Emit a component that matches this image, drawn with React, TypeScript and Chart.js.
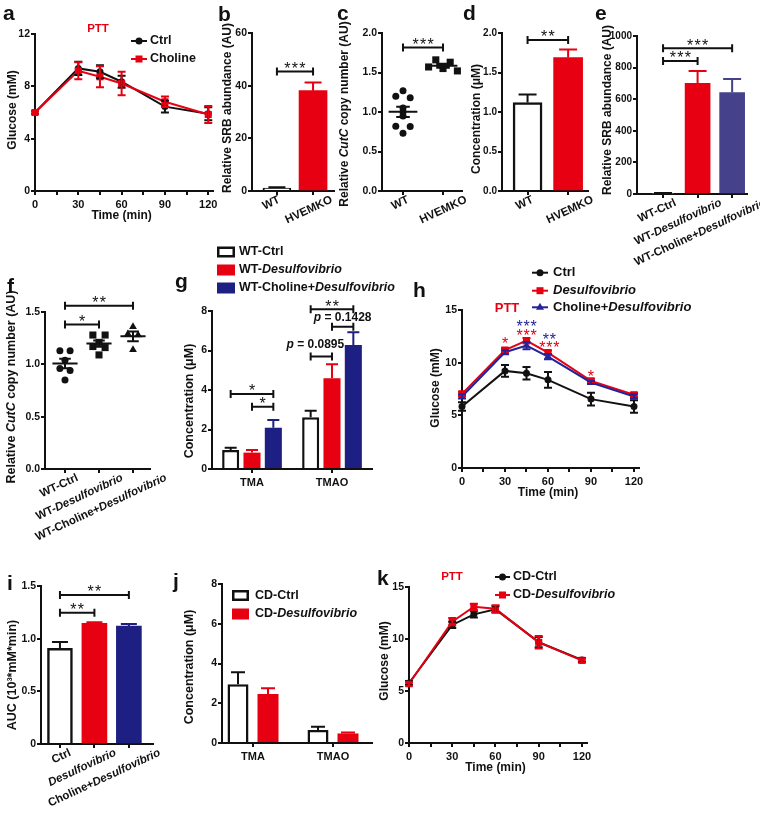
import React, { useEffect, useRef } from 'react';
import { Chart, registerables } from 'chart.js';

Chart.register(...registerables);

type Seg = [string, boolean];

const FONT = '"Liberation Sans", Arial, Helvetica, sans-serif';
const RED = '#e60012';
const BLUE = '#1d1f82';
const BLUE_E = '#45418a';
const BLUE_H = '#23239a';
const BLACK = '#111111';
const WHITE = '#ffffff';

// ---------------- data ----------------
const timePoints = [0, 30, 45, 60, 90, 120];
const timeTicks = [0, 15, 30, 45, 60, 75, 90, 105, 120];

// a
const aCtrl = [6.0, 9.37, 9.11, 8.35, 6.45, 5.9];
const aCtrlErr = [0.12, 0.5, 0.5, 0.45, 0.45, 0.5];
const aCholine = [6.0, 9.19, 8.73, 8.22, 6.82, 5.85];
const aCholineErr = [0.12, 0.65, 0.8, 0.9, 0.4, 0.65];

// b
const koCats: Seg[][] = [[['WT', false]], [['HVEMKO', false]]];
const bSRB = [1.1, 38.1];
const bSRBErr = [0.3, 3.1];

// c
const cWT = [1.27, 1.2, 1.18, 1.05, 1.0, 0.95, 0.82, 0.815, 0.73];
const cKO = [1.66, 1.63, 1.57, 1.55, 1.52];

// d
const dConc = [1.12, 1.69];
const dConcErr = [0.1, 0.1];

// e
const wtCats: Seg[][] = [
  [['WT-Ctrl', false]],
  [['WT-', false], ['Desulfovibrio', true]],
  [['WT-Choline+', false], ['Desulfovibrio', true]],
];
const eSRB = [5, 701, 642];
const eSRBErr = [2, 78, 86];

// f
const fCtrl = [1.13, 1.13, 1.04, 0.96, 0.94, 0.85];
const fDes = [1.28, 1.28, 1.21, 1.17, 1.16, 1.09];
const fChol = [1.36, 1.29, 1.28, 1.14];

// g
const metCats = ['TMA', 'TMAO'];
const gCtrl = [0.96, 2.62];
const gCtrlErr = [0.12, 0.33];
const gDes = [0.83, 4.59];
const gDesErr = [0.13, 0.71];
const gChol = [2.09, 6.28];
const gCholErr = [0.39, 0.64];

// h
const hCtrl = [5.84, 9.22, 9.0, 8.37, 6.54, 5.84];
const hCtrlErr = [0.4, 0.55, 0.6, 0.75, 0.6, 0.6];
const hDes = [7.04, 11.2, 12.09, 10.96, 8.27, 6.95];
const hDesErr = [0.2, 0.2, 0.25, 0.2, 0.2, 0.2];
const hChol = [6.79, 10.99, 11.62, 10.58, 8.12, 6.79];
const hCholErr = [0.2, 0.2, 0.35, 0.25, 0.15, 0.2];

// i
const aucCats: Seg[][] = [
  [['Ctrl', false]],
  [['Desulfovibrio', true]],
  [['Choline+', false], ['Desulfovibrio', true]],
];
const iAUC = [0.908, 1.146, 1.12];
const iAUCErr = [0.06, 0.01, 0.02];

// j
const jCtrl = [2.96, 0.65];
const jCtrlErr = [0.6, 0.17];
const jDes = [2.46, 0.48];
const jDesErr = [0.3, 0.05];

// k
const kCtrl = [5.77, 11.35, 12.37, 12.85, 9.7, 7.98];
const kCtrlErr = [0.2, 0.3, 0.3, 0.3, 0.5, 0.2];
const kDes = [5.7, 11.67, 13.1, 12.9, 9.68, 7.95];
const kDesErr = [0.2, 0.35, 0.3, 0.35, 0.6, 0.2];

// ---------------- types ----------------
interface Box { x: number; y: number; w: number; h: number }
interface Area { l: number; r: number; t: number; b: number }
interface ErrSpec { ds: number; err: number[]; mode: 'up' | 'both'; color: string; cap: number }
type End = number | [number, number];
interface Bracket { a: End; b: End; y: number; stars?: number; label?: Seg[]; dx?: number; dy?: number }
interface StarSpec { x: number; y: number; n: number; color: string }
interface LegendItem { kind: 'line' | 'box'; x: number; y: number; w: number; color: string; fill?: string; point?: string; segs: Seg[]; textX: number; size: number }
interface TextItem { x: number; y: number; segs: Seg[]; size: number; color?: string; align?: 'left' | 'center' | 'right'; baseline?: CanvasTextBaseline }
interface Panel {
  type: 'line' | 'bar' | 'scatter';
  box: Box; area: Area;
  tickSize?: number;
  xMin: number; xMax: number; xTicks: number[]; xLabel?: (v: number) => string;
  yMin: number; yMax: number; yStep: number; yLabel: (v: number) => string;
  datasets: any[];
  texts: TextItem[];
  yTitle: { x: number; y: number; segs: Seg[]; size: number };
  xTitle?: string;
  legend?: LegendItem[];
  errors?: ErrSpec[];
  dots?: { values: number[]; half: number; cap: number }[];
  brackets?: Bracket[];
  stars?: StarSpec[];
  rot?: { labels: Seg[][]; angle: number; dy: number; a: number; b: number; size: number };
}

// ---------------- helpers ----------------
const fnt = (size: number, italic = false, weight = 'bold') => `${italic ? 'italic ' : ''}${weight} ${size}px ${FONT}`;

function richWidth(ctx: CanvasRenderingContext2D, segs: Seg[], size: number, weight = 'bold') {
  let w = 0;
  for (const [t, it] of segs) { ctx.font = fnt(size, it, weight); w += ctx.measureText(t).width; }
  return w;
}

function drawRich(ctx: CanvasRenderingContext2D, segs: Seg[], x: number, y: number, size: number,
  o: { align?: 'left' | 'center' | 'right'; baseline?: CanvasTextBaseline; color?: string; rot?: number; weight?: string } = {}) {
  ctx.save();
  ctx.translate(x, y);
  if (o.rot) ctx.rotate(o.rot);
  ctx.fillStyle = o.color || BLACK;
  ctx.textBaseline = o.baseline || 'middle';
  ctx.textAlign = 'left';
  const w = richWidth(ctx, segs, size, o.weight);
  let cx = o.align === 'right' ? -w : o.align === 'center' ? -w / 2 : 0;
  for (const [t, it] of segs) {
    ctx.font = fnt(size, it, o.weight);
    ctx.fillText(t, cx, 0);
    cx += ctx.measureText(t).width;
  }
  ctx.restore();
  return w;
}

function drawStars(ctx: CanvasRenderingContext2D, cx: number, cy: number, n: number, color: string, size = 16, spacing = 7.5) {
  ctx.save();
  ctx.fillStyle = color;
  ctx.font = `normal ${size}px ${FONT}`;
  ctx.textAlign = 'center';
  ctx.textBaseline = 'alphabetic';
  const start = cx - ((n - 1) * spacing) / 2;
  for (let i = 0; i < n; i++) ctx.fillText('*', start + i * spacing, cy + size * 0.58);
  ctx.restore();
}

function drawMarker(ctx: CanvasRenderingContext2D, style: string, x: number, y: number, color: string) {
  ctx.save();
  ctx.fillStyle = color;
  ctx.beginPath();
  if (style === 'rect') ctx.rect(x - 3.5, y - 3.5, 7, 7);
  else if (style === 'triangle') { ctx.moveTo(x, y - 4.5); ctx.lineTo(x + 4, y + 2.5); ctx.lineTo(x - 4, y + 2.5); ctx.closePath(); }
  else ctx.arc(x, y, 3.5, 0, Math.PI * 2);
  ctx.fill();
  ctx.restore();
}

const pts = (xs: number[], ys: number[]) => xs.map((x, i) => ({ x, y: ys[i] }));

function swarm(values: number[], cat: number, spacing: number, tol: number) {
  const sorted = values.map((v) => v).sort((a, b) => b - a);
  const rows: number[][] = [];
  sorted.forEach((v) => {
    const last = rows[rows.length - 1];
    if (last && last[last.length - 1] - v <= tol) last.push(v); else rows.push([v]);
  });
  const out: { x: number; y: number }[] = [];
  rows.forEach((r) => r.forEach((v, k) => out.push({ x: cat + (k - (r.length - 1) / 2) * spacing, y: v })));
  return out;
}

function lineDs(vals: number[], color: string, style: string, radius: number, order: number) {
  return {
    type: 'line', data: pts(timePoints, vals), borderColor: color, backgroundColor: color,
    pointBackgroundColor: color, pointBorderColor: color, pointBorderWidth: 0,
    pointStyle: style, pointRadius: radius, borderWidth: 2, tension: 0, order, clip: false,
  };
}

function barDs(vals: number[], fill: string[], border: string[], bw: number[], thickness: number) {
  return {
    type: 'bar', data: vals.map((v, i) => ({ x: i, y: v })), backgroundColor: fill,
    borderColor: border, borderWidth: bw, barThickness: thickness,
  };
}

function groupDs(vals: number[], fill: string, border: string, bw: number, cp: number, bp: number) {
  return {
    type: 'bar', data: vals.map((v, i) => ({ x: i, y: v })), backgroundColor: fill,
    borderColor: border, borderWidth: bw, categoryPercentage: cp, barPercentage: bp,
  };
}

const letter = (t: string, x: number, y: number): TextItem => ({ x, y, segs: [[t, false]], size: 21, baseline: 'alphabetic' });
const ptt = (x: number, y: number, size: number): TextItem => ({ x, y, segs: [['PTT', false]], size, color: RED, align: 'center' });
const fix1 = (v: number) => v.toFixed(1);
const plain = (v: number) => String(v);
const timeLabel = (v: number) => (v % 30 === 0 ? String(v) : '');
const catIdx = (n: number) => Array.from({ length: n }, (_, i) => i);

// ---------------- panels ----------------
const PANELS: Panel[] = [
  // a
  {
    type: 'line', box: { x: 0, y: 0, w: 232, h: 222 }, area: { l: 35, r: 213.3, t: 34, b: 191 },
    xMin: 0, xMax: 123.5, xTicks: timeTicks, xLabel: timeLabel,
    yMin: 0, yMax: 12, yStep: 4, yLabel: plain,
    datasets: [lineDs(aCholine, RED, 'rect', 5, 0), lineDs(aCtrl, BLACK, 'circle', 3.5, 1)],
    errors: [
      { ds: 1, err: aCtrlErr, mode: 'both', color: BLACK, cap: 8 },
      { ds: 0, err: aCholineErr, mode: 'both', color: RED, cap: 8 },
    ],
    texts: [letter('a', 3, 20), ptt(98, 29, 11.5)],
    yTitle: { x: 13, y: 110, segs: [['Glucose (mM)', false]], size: 12 },
    xTitle: 'Time (min)',
    legend: [
      { kind: 'line', x: 131, y: 41, w: 16, color: BLACK, point: 'circle', segs: [['Ctrl', false]], textX: 150, size: 12.5 },
      { kind: 'line', x: 131, y: 59, w: 16, color: RED, point: 'rect', segs: [['Choline', false]], textX: 150, size: 12.5 },
    ],
  },
  // b
  {
    type: 'bar', box: { x: 182, y: 0, w: 172, h: 245 }, area: { l: 252, r: 334, t: 33, b: 191 },
    xMin: -0.69, xMax: 1.58, xTicks: catIdx(2),
    yMin: 0, yMax: 60, yStep: 20, yLabel: plain,
    datasets: [barDs(bSRB, [WHITE, RED], [BLACK, RED], [2, 0], 28)],
    errors: [{ ds: 0, err: bSRBErr, mode: 'up', color: RED, cap: 17 }],
    texts: [letter('b', 218, 21)],
    yTitle: { x: 228, y: 108, segs: [['Relative SRB abundance (AU)', false]], size: 12 },
    brackets: [{ a: 0, b: 1, y: 45.4, stars: 3 }],
    rot: { labels: koCats, angle: 25, dy: 3, a: -9, b: 0.5, size: 11.5 },
  },
  // c
  {
    type: 'scatter', box: { x: 330, y: 0, w: 155, h: 245 }, area: { l: 382, r: 462, t: 33, b: 191 },
    xMin: -0.525, xMax: 1.475, xTicks: catIdx(2),
    yMin: 0, yMax: 2, yStep: 0.5, yLabel: fix1,
    datasets: [
      { data: swarm(cWT, 0, 0.36, 0.035), pointStyle: 'circle', pointRadius: 3.5, backgroundColor: BLACK, borderColor: BLACK, borderWidth: 0 },
      { data: swarm(cKO, 1, 0.36, 0.035), pointStyle: 'rect', pointRadius: 5, backgroundColor: BLACK, borderColor: BLACK, borderWidth: 0 },
    ],
    dots: [{ values: cWT, half: 0.36, cap: 0.17 }, { values: cKO, half: 0.36, cap: 0.17 }],
    texts: [letter('c', 337, 20)],
    yTitle: { x: 345, y: 114, segs: [['Relative ', false], ['CutC', true], [' copy number (AU)', false]], size: 12 },
    brackets: [{ a: 0, b: 1, y: 1.815, stars: 3 }],
    rot: { labels: koCats, angle: 25, dy: 3, a: -7, b: 0.55, size: 11.5 },
  },
  // d
  {
    type: 'bar', box: { x: 460, y: 0, w: 150, h: 245 }, area: { l: 502, r: 588, t: 33, b: 191 }, tickSize: 10,
    xMin: -0.63, xMax: 1.49, xTicks: catIdx(2),
    yMin: 0, yMax: 2, yStep: 0.5, yLabel: fix1,
    datasets: [barDs(dConc, [WHITE, RED], [BLACK, RED], [2.5, 0], 29)],
    errors: [{ ds: 0, err: dConcErr, mode: 'up', color: BLACK, cap: 18 }],
    texts: [letter('d', 463, 20)],
    yTitle: { x: 477, y: 119, segs: [['Concentration (μM)', false]], size: 12 },
    brackets: [{ a: 0, b: 1, y: 1.91, stars: 2 }],
    rot: { labels: koCats, angle: 25, dy: 3, a: -8, b: 0.6, size: 11.5 },
  },
  // e
  {
    type: 'bar', box: { x: 583, y: 0, w: 177, h: 280 }, area: { l: 637, r: 747, t: 36, b: 194 }, tickSize: 10,
    xMin: -0.754, xMax: 2.43, xTicks: catIdx(3),
    yMin: 0, yMax: 1000, yStep: 200, yLabel: plain,
    datasets: [barDs(eSRB, [WHITE, RED, BLUE_E], [BLACK, RED, BLUE_E], [2, 0, 0], 25)],
    errors: [{ ds: 0, err: eSRBErr, mode: 'up', color: RED, cap: 18 }],
    texts: [letter('e', 595, 20)],
    yTitle: { x: 608, y: 110, segs: [['Relative SRB abundance (AU)', false]], size: 12 },
    brackets: [{ a: 0, b: 1, y: 842, stars: 3 }, { a: 0, b: 2, y: 922, stars: 3 }],
    rot: { labels: wtCats, angle: 25, dy: 3, a: 2, b: 0.2, size: 11.5 },
  },
  // f
  {
    type: 'scatter', box: { x: 0, y: 270, w: 178, h: 290 }, area: { l: 45, r: 150, t: 312, b: 469 },
    xMin: -0.588, xMax: 2.5, xTicks: catIdx(3),
    yMin: 0, yMax: 1.5, yStep: 0.5, yLabel: fix1,
    datasets: [
      { data: swarm(fCtrl, 0, 0.3, 0.025), pointStyle: 'circle', pointRadius: 3.5, backgroundColor: BLACK, borderColor: BLACK, borderWidth: 0 },
      { data: swarm(fDes, 1, 0.36, 0.025), pointStyle: 'rect', pointRadius: 5, backgroundColor: BLACK, borderColor: BLACK, borderWidth: 0 },
      { data: swarm(fChol, 2, 0.3, 0.025), pointStyle: 'triangle', pointRadius: 4.5, backgroundColor: BLACK, borderColor: BLACK, borderWidth: 0 },
    ],
    dots: [{ values: fCtrl, half: 0.37, cap: 0.17 }, { values: fDes, half: 0.37, cap: 0.17 }, { values: fChol, half: 0.37, cap: 0.17 }],
    texts: [letter('f', 7, 293)],
    yTitle: { x: 12, y: 387, segs: [['Relative ', false], ['CutC', true], [' copy number (AU)', false]], size: 12.5 },
    brackets: [{ a: 0, b: 1, y: 1.38, stars: 1 }, { a: 0, b: 2, y: 1.56, stars: 2 }],
    rot: { labels: wtCats, angle: 25, dy: 3, a: 2, b: 0.2, size: 11.5 },
  },
  // g
  {
    type: 'bar', box: { x: 170, y: 238, w: 250, h: 262 }, area: { l: 212, r: 372, t: 311, b: 469 },
    xMin: -0.5, xMax: 1.5, xTicks: catIdx(2), xLabel: (v) => metCats[v] ?? '',
    yMin: 0, yMax: 8, yStep: 2, yLabel: plain,
    datasets: [
      groupDs(gCtrl, WHITE, BLACK, 2.5, 0.8, 0.8),
      groupDs(gDes, RED, RED, 0, 0.8, 0.8),
      groupDs(gChol, BLUE, BLUE, 0, 0.8, 0.8),
    ],
    errors: [
      { ds: 0, err: gCtrlErr, mode: 'up', color: BLACK, cap: 12 },
      { ds: 1, err: gDesErr, mode: 'up', color: RED, cap: 12 },
      { ds: 2, err: gCholErr, mode: 'up', color: BLUE, cap: 12 },
    ],
    texts: [letter('g', 175, 288)],
    yTitle: { x: 190, y: 401, segs: [['Concentration (μM)', false]], size: 12.5 },
    legend: [
      { kind: 'box', x: 217, y: 252, w: 18, color: BLACK, fill: WHITE, segs: [['WT-Ctrl', false]], textX: 239, size: 12.5 },
      { kind: 'box', x: 217, y: 270, w: 18, color: RED, fill: RED, segs: [['WT-', false], ['Desulfovibrio', true]], textX: 239, size: 12.5 },
      { kind: 'box', x: 217, y: 288, w: 18, color: BLUE, fill: BLUE, segs: [['WT-Choline+', false], ['Desulfovibrio', true]], textX: 239, size: 12.5 },
    ],
    brackets: [
      { a: [0, 0], b: [2, 0], y: 3.8, stars: 1 },
      { a: [1, 0], b: [2, 0], y: 3.15, stars: 1 },
      { a: [0, 1], b: [1, 1], y: 5.69, label: [['p', true], [' = 0.0895', false]], dx: -6, dy: -12 },
      { a: [1, 1], b: [2, 1], y: 7.2, label: [['p', true], [' = 0.1428', false]], dx: 0, dy: -9 },
      { a: [0, 1], b: [2, 1], y: 8.09, stars: 2 },
    ],
  },
  // h
  {
    type: 'line', box: { x: 405, y: 258, w: 305, h: 250 }, area: { l: 462, r: 639, t: 310, b: 468 },
    xMin: 0, xMax: 123.5, xTicks: timeTicks, xLabel: timeLabel,
    yMin: 0, yMax: 15, yStep: 5, yLabel: plain,
    datasets: [
      lineDs(hChol, BLUE_H, 'triangle', 4.5, 0),
      lineDs(hDes, RED, 'rect', 5, 1),
      lineDs(hCtrl, BLACK, 'circle', 3.5, 2),
    ],
    errors: [
      { ds: 2, err: hCtrlErr, mode: 'both', color: BLACK, cap: 8 },
      { ds: 1, err: hDesErr, mode: 'both', color: RED, cap: 8 },
      { ds: 0, err: hCholErr, mode: 'both', color: BLUE_H, cap: 8 },
    ],
    texts: [letter('h', 413, 297), ptt(507, 308, 13)],
    yTitle: { x: 436, y: 388, segs: [['Glucose (mM)', false]], size: 12 },
    xTitle: 'Time (min)',
    legend: [
      { kind: 'line', x: 532, y: 272.7, w: 16, color: BLACK, point: 'circle', segs: [['Ctrl', false]], textX: 553, size: 13 },
      { kind: 'line', x: 532, y: 290.7, w: 16, color: RED, point: 'rect', segs: [['Desulfovibrio', true]], textX: 553, size: 13 },
      { kind: 'line', x: 532, y: 307.3, w: 16, color: BLUE_H, point: 'triangle', segs: [['Choline+', false], ['Desulfovibrio', true]], textX: 553, size: 13 },
    ],
    stars: [
      { x: 30, y: 12.16, n: 1, color: RED },
      { x: 45, y: 13.8, n: 3, color: BLUE_H },
      { x: 45, y: 12.95, n: 3, color: RED },
      { x: 61, y: 12.54, n: 2, color: BLUE_H },
      { x: 61, y: 11.78, n: 3, color: RED },
      { x: 90, y: 9.06, n: 1, color: RED },
    ],
  },
  // i
  {
    type: 'bar', box: { x: 0, y: 565, w: 180, h: 253 }, area: { l: 41, r: 153, t: 586, b: 744 },
    xMin: -0.55, xMax: 2.7, xTicks: catIdx(3),
    yMin: 0, yMax: 1.5, yStep: 0.5, yLabel: (v) => (v === 0 ? '0' : v.toFixed(1)),
    datasets: [barDs(iAUC, [WHITE, RED, BLUE], [BLACK, RED, BLUE], [2.5, 0, 0], 25)],
    errors: [{ ds: 0, err: iAUCErr, mode: 'up', color: BLACK, cap: 16 }],
    texts: [letter('i', 7, 590)],
    yTitle: { x: 13, y: 675, segs: [['AUC (10³*mM*min)', false]], size: 12.5 },
    brackets: [{ a: 0, b: 1, y: 1.247, stars: 2 }, { a: 0, b: 2, y: 1.415, stars: 2 }],
    rot: { labels: aucCats, angle: 25, dy: 3, a: 4, b: 0.2, size: 11.5 },
  },
  // j
  {
    type: 'bar', box: { x: 170, y: 570, w: 210, h: 248 }, area: { l: 222, r: 372, t: 584, b: 743 },
    xMin: -0.3875, xMax: 1.4875, xTicks: catIdx(2), xLabel: (v) => metCats[v] ?? '',
    yMin: 0, yMax: 8, yStep: 2, yLabel: plain,
    datasets: [
      groupDs(jCtrl, WHITE, BLACK, 2.5, 0.75, 0.7),
      groupDs(jDes, RED, RED, 0, 0.75, 0.7),
    ],
    errors: [
      { ds: 0, err: jCtrlErr, mode: 'up', color: BLACK, cap: 14 },
      { ds: 1, err: jDesErr, mode: 'up', color: RED, cap: 14 },
    ],
    texts: [letter('j', 173, 588)],
    yTitle: { x: 190, y: 667, segs: [['Concentration (μM)', false]], size: 12.5 },
    legend: [
      { kind: 'box', x: 232, y: 595.5, w: 17, color: BLACK, fill: WHITE, segs: [['CD-Ctrl', false]], textX: 255, size: 12.5 },
      { kind: 'box', x: 232, y: 614, w: 17, color: RED, fill: RED, segs: [['CD-', false], ['Desulfovibrio', true]], textX: 255, size: 12.5 },
    ],
  },
  // k
  {
    type: 'line', box: { x: 372, y: 565, w: 300, h: 253 }, area: { l: 409, r: 587, t: 587, b: 743 },
    xMin: 0, xMax: 123.5, xTicks: timeTicks, xLabel: timeLabel,
    yMin: 0, yMax: 15, yStep: 5, yLabel: plain,
    datasets: [lineDs(kDes, RED, 'rect', 5, 0), lineDs(kCtrl, BLACK, 'circle', 3.5, 1)],
    errors: [
      { ds: 1, err: kCtrlErr, mode: 'both', color: BLACK, cap: 8 },
      { ds: 0, err: kDesErr, mode: 'both', color: RED, cap: 8 },
    ],
    texts: [letter('k', 377, 585), ptt(452, 577, 11.5)],
    yTitle: { x: 385, y: 661, segs: [['Glucose (mM)', false]], size: 12 },
    xTitle: 'Time (min)',
    legend: [
      { kind: 'line', x: 495, y: 577, w: 15, color: BLACK, point: 'circle', segs: [['CD-Ctrl', false]], textX: 513, size: 12.5 },
      { kind: 'line', x: 495, y: 595, w: 15, color: RED, point: 'rect', segs: [['CD-', false], ['Desulfovibrio', true]], textX: 513, size: 12.5 },
    ],
  },
];

// ---------------- plugin ----------------
function decoPlugin(p: Panel) {
  const ox = p.box.x;
  const oy = p.box.y;
  return {
    id: 'deco',
    afterDatasetsDraw(chart: any) {
      const ctx: CanvasRenderingContext2D = chart.ctx;
      const xs = chart.scales.x;
      const ys = chart.scales.y;
      (p.errors || []).forEach((e) => {
        const meta = chart.getDatasetMeta(e.ds);
        const data = chart.data.datasets[e.ds].data;
        const colors = chart.data.datasets[e.ds].borderColor;
        meta.data.forEach((el: any, i: number) => {
          const d = data[i];
          const v = typeof d === 'number' ? d : d.y;
          const x = el.x;
          const top = ys.getPixelForValue(v + e.err[i]);
          const bot = e.mode === 'both' ? ys.getPixelForValue(v - e.err[i]) : ys.getPixelForValue(v);
          ctx.save();
          ctx.strokeStyle = Array.isArray(colors) ? colors[i] : e.color;
          ctx.lineWidth = 2;
          ctx.beginPath();
          ctx.moveTo(x, top); ctx.lineTo(x, bot);
          ctx.moveTo(x - e.cap / 2, top); ctx.lineTo(x + e.cap / 2, top);
          if (e.mode === 'both') { ctx.moveTo(x - e.cap / 2, bot); ctx.lineTo(x + e.cap / 2, bot); }
          ctx.stroke();
          ctx.restore();
        });
      });
      (p.dots || []).forEach((g, ci) => {
        const n = g.values.length;
        const mean = g.values.reduce((s, v) => s + v, 0) / n;
        const sd = Math.sqrt(g.values.reduce((s, v) => s + (v - mean) ** 2, 0) / (n - 1));
        const sem = sd / Math.sqrt(n);
        const cx = xs.getPixelForValue(ci);
        const hw = xs.getPixelForValue(ci + g.half) - cx;
        const cw = xs.getPixelForValue(ci + g.cap) - cx;
        const ym = ys.getPixelForValue(mean);
        const yt = ys.getPixelForValue(mean + sem);
        const yb = ys.getPixelForValue(mean - sem);
        ctx.save();
        ctx.strokeStyle = BLACK;
        ctx.lineWidth = 2;
        ctx.beginPath();
        ctx.moveTo(cx - hw, ym); ctx.lineTo(cx + hw, ym);
        ctx.moveTo(cx, yt); ctx.lineTo(cx, yb);
        ctx.moveTo(cx - cw, yt); ctx.lineTo(cx + cw, yt);
        ctx.moveTo(cx - cw, yb); ctx.lineTo(cx + cw, yb);
        ctx.stroke();
        ctx.restore();
      });
    },
    afterDraw(chart: any) {
      const ctx: CanvasRenderingContext2D = chart.ctx;
      const xs = chart.scales.x;
      const ys = chart.scales.y;
      const ca = chart.chartArea;
      p.texts.forEach((t) => drawRich(ctx, t.segs, t.x - ox, t.y - oy, t.size, { color: t.color, align: t.align, baseline: t.baseline }));
      drawRich(ctx, p.yTitle.segs, p.yTitle.x - ox, p.yTitle.y - oy, p.yTitle.size, { align: 'center', rot: -Math.PI / 2 });
      if (p.xTitle) drawRich(ctx, [[p.xTitle, false]], xs.getPixelForValue(60), ca.bottom + 25, 12, { align: 'center' });
      (p.legend || []).forEach((l) => {
        const x = l.x - ox; const y = l.y - oy;
        ctx.save();
        if (l.kind === 'line') {
          ctx.strokeStyle = l.color; ctx.lineWidth = 2;
          ctx.beginPath(); ctx.moveTo(x, y); ctx.lineTo(x + l.w, y); ctx.stroke();
          drawMarker(ctx, l.point || 'circle', x + l.w / 2, y, l.color);
        } else {
          ctx.fillStyle = l.fill || l.color;
          ctx.fillRect(x, y - 5.5, l.w, 11);
          if (l.fill === WHITE) { ctx.strokeStyle = l.color; ctx.lineWidth = 2.5; ctx.strokeRect(x + 1.25, y - 4.25, l.w - 2.5, 8.5); }
        }
        ctx.restore();
        drawRich(ctx, l.segs, l.textX - ox, y, l.size, {});
      });
      const bx = (e: End) => (typeof e === 'number' ? xs.getPixelForValue(e) : chart.getDatasetMeta(e[0]).data[e[1]].x);
      (p.brackets || []).forEach((b) => {
        const x1 = bx(b.a); const x2 = bx(b.b); const y = ys.getPixelForValue(b.y);
        ctx.save();
        ctx.strokeStyle = BLACK; ctx.lineWidth = 2;
        ctx.beginPath();
        ctx.moveTo(x1, y); ctx.lineTo(x2, y);
        ctx.moveTo(x1, y - 4); ctx.lineTo(x1, y + 4);
        ctx.moveTo(x2, y - 4); ctx.lineTo(x2, y + 4);
        ctx.stroke();
        ctx.restore();
        const mx = (x1 + x2) / 2;
        if (b.stars) drawStars(ctx, mx, y - 7, b.stars, BLACK);
        if (b.label) drawRich(ctx, b.label, mx + (b.dx || 0), y + (b.dy || -10), 12, { align: 'center' });
      });
      (p.stars || []).forEach((s) => drawStars(ctx, xs.getPixelForValue(s.x), ys.getPixelForValue(s.y), s.n, s.color, 16, 7));
      if (p.rot) {
        const r = p.rot;
        r.labels.forEach((segs, i) => {
          const px = xs.getPixelForValue(i);
          const L = richWidth(ctx, segs, r.size);
          drawRich(ctx, segs, px + r.a + r.b * L, ca.bottom + r.dy, r.size, { align: 'right', baseline: 'top', rot: (-r.angle * Math.PI) / 180 });
        });
      }
    },
  };
}

// ---------------- config ----------------
function makeConfig(p: Panel) {
  const padTop = p.area.t - p.box.y;
  const padRight = p.box.x + p.box.w - p.area.r;
  const yW = p.area.l - p.box.x;
  const xH = p.box.y + p.box.h - p.area.b;
  const yFont = { family: FONT, size: p.tickSize || 10.5, weight: 'bold' as const };
  const xFont = { family: FONT, size: 11, weight: 'bold' as const };
  return {
    type: p.type,
    data: { datasets: p.datasets },
    options: {
      animation: false,
      responsive: false,
      maintainAspectRatio: false,
      devicePixelRatio: 1,
      events: [],
      layout: { padding: { top: padTop, right: padRight, left: 0, bottom: 0 } },
      plugins: { legend: { display: false }, tooltip: { enabled: false }, title: { display: false } },
      scales: {
        x: {
          type: 'linear', min: p.xMin, max: p.xMax, bounds: 'data', offset: false,
          afterBuildTicks: (s: any) => { s.ticks = p.xTicks.map((v) => ({ value: v })); },
          afterFit: (s: any) => { s.height = xH; },
          grid: { drawOnChartArea: false, drawTicks: true, tickLength: 4, color: BLACK, lineWidth: 2, offset: false },
          border: { display: true, color: BLACK, width: 2 },
          ticks: {
            display: !!p.xLabel, autoSkip: false, maxRotation: 0, minRotation: 0, padding: 3, color: BLACK, font: xFont,
            callback: (v: any) => (p.xLabel ? p.xLabel(Number(v)) : ''),
          },
        },
        y: {
          type: 'linear', min: p.yMin, max: p.yMax,
          afterFit: (s: any) => { s.width = yW; },
          grid: { drawOnChartArea: false, drawTicks: true, tickLength: 4, color: BLACK, lineWidth: 2 },
          border: { display: true, color: BLACK, width: 2 },
          ticks: { stepSize: p.yStep, padding: 1, color: BLACK, font: yFont, callback: (v: any) => p.yLabel(Number(v)) },
        },
      },
    },
    plugins: [decoPlugin(p)],
  };
}

export default function App() {
  const refs = useRef<(HTMLCanvasElement | null)[]>([]);
  useEffect(() => {
    const charts = PANELS.map((p, i) => new Chart(refs.current[i] as HTMLCanvasElement, makeConfig(p) as any));
    return () => charts.forEach((c) => c.destroy());
  }, []);
  return (
    <div style={{ position: 'absolute', left: 0, top: 0, width: 760, height: 818, background: '#fff', overflow: 'hidden' }}>
      {PANELS.map((p, i) => (
        <canvas
          key={i}
          ref={(el) => { refs.current[i] = el; }}
          width={p.box.w}
          height={p.box.h}
          style={{ position: 'absolute', left: p.box.x, top: p.box.y, width: p.box.w, height: p.box.h }}
        />
      ))}
    </div>
  );
}
